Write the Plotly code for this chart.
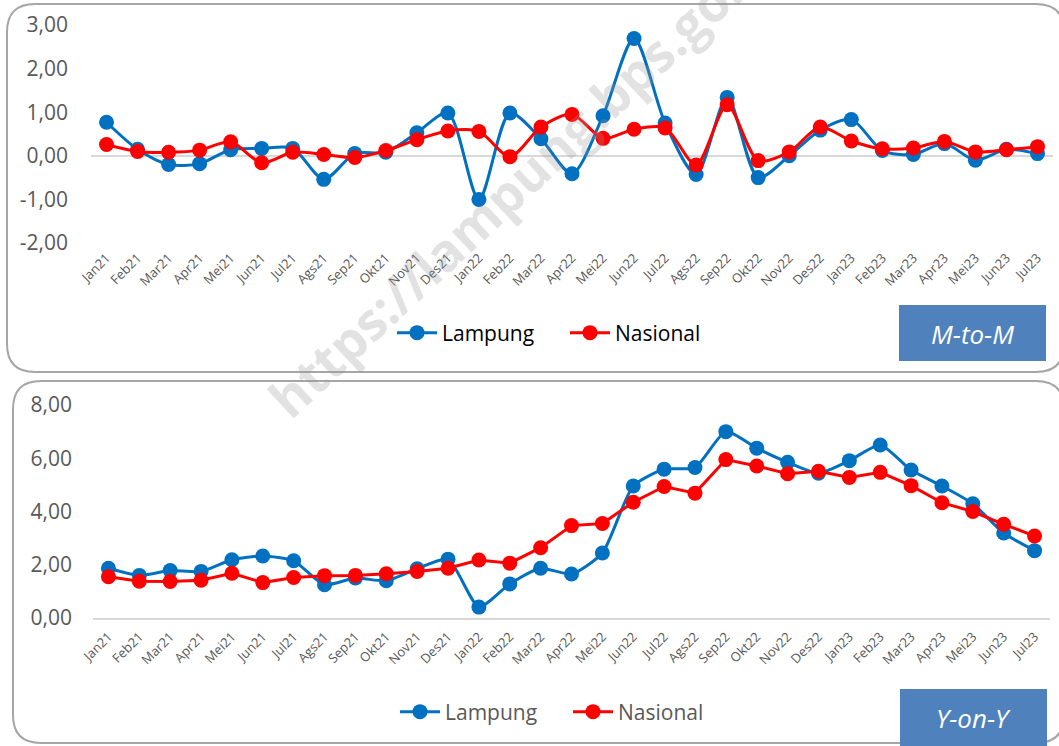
import plotly.graph_objects as go

months = ["Jan21","Feb21","Mar21","Apr21","Mei21","Jun21","Jul21","Ags21","Sep21","Okt21","Nov21","Des21",
          "Jan22","Feb22","Mar22","Apr22","Mei22","Jun22","Jul22","Ags22","Sep22","Okt22","Nov22","Des22",
          "Jan23","Feb23","Mar23","Apr23","Mei23","Jun23","Jul23"]

mtm_lampung = [0.77,0.15,-0.20,-0.18,0.14,0.17,0.17,-0.54,0.05,0.08,0.53,0.98,
               -1.00,0.98,0.39,-0.41,0.92,2.69,0.75,-0.43,1.34,-0.50,0.00,0.59,
               0.83,0.12,0.03,0.28,-0.10,0.15,0.05]
mtm_nasional = [0.26,0.10,0.08,0.13,0.32,-0.16,0.08,0.03,-0.04,0.12,0.37,0.57,
                0.56,-0.02,0.66,0.95,0.40,0.61,0.64,-0.21,1.17,-0.11,0.09,0.66,
                0.34,0.16,0.18,0.33,0.09,0.14,0.21]

yoy_lampung = [1.87,1.60,1.78,1.75,2.19,2.33,2.15,1.25,1.50,1.40,1.85,2.21,
               0.41,1.28,1.87,1.65,2.44,4.96,5.59,5.65,7.00,6.38,5.85,5.44,
               5.91,6.50,5.56,4.96,4.29,3.19,2.53]
yoy_nasional = [1.55,1.38,1.37,1.42,1.68,1.33,1.52,1.59,1.60,1.66,1.75,1.87,
                2.18,2.06,2.64,3.47,3.55,4.35,4.94,4.69,5.95,5.71,5.42,5.51,
                5.28,5.47,4.97,4.33,4.00,3.52,3.08]

mtm_ticks = [-2, -1, 0, 1, 2, 3]
mtm_ticktext = ["-2,00", "-1,00", "0,00", "1,00", "2,00", "3,00"]
yoy_ticks = [0, 2, 4, 6, 8]
yoy_ticktext = ["0,00", "2,00", "4,00", "6,00", "8,00"]

BLUE = "#0070C0"
RED = "#FF0000"
GREY_TXT = "#595959"
BOX = "#4F81BD"
W, H = 1059, 746

def px(x):
    return x / W

def py(y):
    return 1 - y / H

fig = go.Figure()

fig.add_trace(go.Scatter(x=months, y=mtm_lampung, name="Lampung", mode="lines+markers",
                         line=dict(color=BLUE, width=3, shape="spline", smoothing=0.8),
                         marker=dict(color=BLUE, size=15), xaxis="x", yaxis="y", legend="legend"))
fig.add_trace(go.Scatter(x=months, y=mtm_nasional, name="Nasional", mode="lines+markers",
                         line=dict(color=RED, width=3, shape="spline", smoothing=0.8),
                         marker=dict(color=RED, size=15), xaxis="x", yaxis="y", legend="legend"))
fig.add_trace(go.Scatter(x=months, y=yoy_lampung, name="Lampung", mode="lines+markers",
                         line=dict(color=BLUE, width=3, shape="spline", smoothing=0.6),
                         marker=dict(color=BLUE, size=15), xaxis="x2", yaxis="y2", legend="legend2"))
fig.add_trace(go.Scatter(x=months, y=yoy_nasional, name="Nasional", mode="lines+markers",
                         line=dict(color=RED, width=3),
                         marker=dict(color=RED, size=15), xaxis="x2", yaxis="y2", legend="legend2"))

tickfont_x = dict(family="Open Sans", size=13, color=GREY_TXT)
tickfont_y = dict(family="Open Sans", size=21, color=GREY_TXT)

def rounded_rect(x0, y0, x1, y1, r):
    return (f"M {px(x0+r)},{py(y0)} L {px(x1-r)},{py(y0)} Q {px(x1)},{py(y0)} {px(x1)},{py(y0+r)} "
            f"L {px(x1)},{py(y1-r)} Q {px(x1)},{py(y1)} {px(x1-r)},{py(y1)} "
            f"L {px(x0+r)},{py(y1)} Q {px(x0)},{py(y1)} {px(x0)},{py(y1-r)} "
            f"L {px(x0)},{py(y0+r)} Q {px(x0)},{py(y0)} {px(x0+r)},{py(y0)} Z")

shapes = [
    dict(type="path", xref="paper", yref="paper", path=rounded_rect(7, 4, 1064, 372, 28),
         line=dict(color="#A6A6A6", width=2), fillcolor="rgba(0,0,0,0)", layer="below"),
    dict(type="path", xref="paper", yref="paper", path=rounded_rect(13, 381, 1064, 743, 28),
         line=dict(color="#A6A6A6", width=2), fillcolor="rgba(0,0,0,0)", layer="below"),
    dict(type="rect", xref="paper", yref="paper", x0=px(899), x1=px(1046), y0=py(361), y1=py(305),
         line=dict(width=0), fillcolor=BOX, layer="above"),
    dict(type="rect", xref="paper", yref="paper", x0=px(900), x1=px(1047), y0=py(750), y1=py(689),
         line=dict(width=0), fillcolor=BOX, layer="above"),
]

annotations = [
    dict(text="M-to-M", xref="paper", yref="paper", x=px(972), y=py(334), showarrow=False,
         xanchor="center", yanchor="middle",
         font=dict(family="Open Sans", size=26, color="white", style="italic")),
    dict(text="Y-on-Y", xref="paper", yref="paper", x=px(973), y=py(718), showarrow=False,
         xanchor="center", yanchor="middle",
         font=dict(family="Open Sans", size=26, color="white", style="italic")),
    dict(text="<b>https://lampung.bps.go.id</b>", xref="paper", yref="paper", x=px(522), y=py(178),
         xanchor="center", yanchor="middle", showarrow=False, textangle=-43,
         font=dict(family="Open Sans", size=52, color="rgba(150,150,150,0.28)")),
]

fig.update_layout(
    width=W, height=H,
    margin=dict(l=0, r=0, t=0, b=0, autoexpand=False),
    paper_bgcolor="white", plot_bgcolor="rgba(0,0,0,0)",
    showlegend=True,
    shapes=shapes,
    annotations=annotations,
    xaxis=dict(domain=[px(91), px(1053)], range=[-0.5, 30.5], tickangle=-45, tickfont=tickfont_x,
               showgrid=False, showline=False, zeroline=False, anchor="y", ticks="",
               ticklabelstandoff=4, automargin=False),
    yaxis=dict(domain=[py(243), py(25)], range=[-2, 3], tickvals=mtm_ticks, ticktext=mtm_ticktext,
               tickfont=tickfont_y, showgrid=False, zeroline=True, zerolinecolor="#D9D9D9",
               zerolinewidth=2, showline=False, anchor="x", ticklabelstandoff=22, automargin=False),
    xaxis2=dict(domain=[px(93), px(1050)], range=[-0.5, 30.5], tickangle=-45, tickfont=tickfont_x,
                showgrid=False, showline=True, linecolor="#D9D9D9", linewidth=2, zeroline=False,
                anchor="y2", ticks="", ticklabelstandoff=4, automargin=False),
    yaxis2=dict(domain=[py(618), py(405)], range=[0, 8], tickvals=yoy_ticks, ticktext=yoy_ticktext,
                tickfont=tickfont_y, showgrid=False, zeroline=False, showline=False, anchor="x2",
                ticklabelstandoff=20, automargin=False),
    legend=dict(orientation="h", x=px(392), y=py(333), xanchor="left", yanchor="middle",
                font=dict(family="Open Sans", size=21, color="black"), bgcolor="rgba(0,0,0,0)",
                entrywidth=118, entrywidthmode="pixels", itemwidth=40),
    legend2=dict(orientation="h", x=px(395), y=py(712), xanchor="left", yanchor="middle",
                 font=dict(family="Open Sans", size=21, color=GREY_TXT), bgcolor="rgba(0,0,0,0)",
                 entrywidth=118, entrywidthmode="pixels", itemwidth=40),
)

fig.write_html("out.html")
